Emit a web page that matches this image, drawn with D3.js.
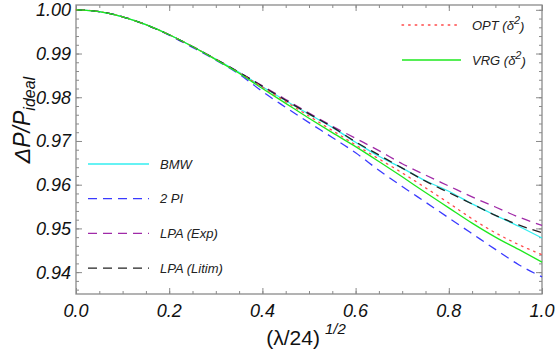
<!DOCTYPE html>
<html>
<head>
<meta charset="utf-8">
<script src="https://cdn.jsdelivr.net/npm/d3@7"></script>
<style>
  body { margin: 0; background: #fff; }
  text { font-family: 'Liberation Sans', Arial, sans-serif; }
</style>
</head>
<body>
<div id="wrapper"></div>
<script>
// 1. Data

const xs = [0, 0.05, 0.1, 0.15, 0.2, 0.25, 0.3, 0.35, 0.4, 0.45, 0.5,
  0.55, 0.6, 0.65, 0.7, 0.75, 0.8, 0.85, 0.9, 0.95, 1.0];

const bmw = [1.0, 0.9996, 0.9984, 0.9966, 0.9943, 0.9916, 0.9887, 0.9857, 0.9824, 0.9792, 0.9761,
  0.9731, 0.9697, 0.9665, 0.9638, 0.9609, 0.9585, 0.9556, 0.9530, 0.9505, 0.9478];
const twoPI = [1.0, 0.9996, 0.9984, 0.9966, 0.9942, 0.9914, 0.9885, 0.9853, 0.9813, 0.9777, 0.9742,
  0.9708, 0.9673, 0.9633, 0.9596, 0.9560, 0.9524, 0.9488, 0.9452, 0.9417, 0.9389];
const lpaExp = [1.0, 0.9996, 0.9984, 0.9966, 0.9943, 0.9916, 0.9887, 0.9857, 0.9826, 0.9795, 0.9764,
  0.9734, 0.9706, 0.9678, 0.9648, 0.9622, 0.9597, 0.9572, 0.9549, 0.9526, 0.9507];
const lpaLitim = [1.0, 0.9996, 0.9984, 0.9966, 0.9943, 0.9916, 0.9887, 0.9857, 0.9825, 0.9793, 0.9762,
  0.9732, 0.9698, 0.9668, 0.9638, 0.9608, 0.9582, 0.9556, 0.9530, 0.9508, 0.9490];
const opt = [1.0, 0.9996, 0.9984, 0.9966, 0.9943, 0.9916, 0.9887, 0.9856, 0.9823, 0.9790, 0.9757,
  0.9724, 0.9691, 0.9659, 0.9627, 0.9593, 0.9558, 0.9522, 0.9490, 0.9463, 0.9440];
const vrg = [1.0, 0.9996, 0.9984, 0.9966, 0.9943, 0.9916, 0.9886, 0.9855, 0.9820, 0.9786, 0.9752,
  0.9719, 0.9687, 0.9653, 0.9618, 0.9582, 0.9547, 0.9512, 0.9480, 0.9452, 0.9423];

const xTicks = [0, 0.2, 0.4, 0.6, 0.8, 1.0];
const yTicks = [0.94, 0.95, 0.96, 0.97, 0.98, 0.99, 1.0];

const series = [
  { name: 'BMW', values: bmw, color: '#33eef0', dash: null, legend: 'left' },
  { name: '2 PI', values: twoPI, color: '#3a3aff', dash: '9,6', legend: 'left' },
  { name: 'LPA (Exp)', values: lpaExp, color: '#a02aa8', dash: '9,6', legend: 'left' },
  { name: 'LPA (Litim)', values: lpaLitim, color: '#222', dash: '9,6', legend: 'left' },
  { name: 'OPT', values: opt, color: '#ff4a4a', dash: '1.6,5', legend: 'right' },
  { name: 'VRG', values: vrg, color: '#1ee81e', dash: null, legend: 'right' },
];

// 2. Dimensions

let dimensions = {
  width: 556,
  height: 357,
  margin: { top: 5, right: 14, bottom: 63, left: 76 },
};
dimensions.boundedWidth = dimensions.width - dimensions.margin.left - dimensions.margin.right;
dimensions.boundedHeight = dimensions.height - dimensions.margin.top - dimensions.margin.bottom;

// 3. Canvas

const wrapper = d3.select('#wrapper').append('svg')
  .attr('width', dimensions.width)
  .attr('height', dimensions.height);

const bounds = wrapper.append('g')
  .attr('transform', `translate(${dimensions.margin.left},${dimensions.margin.top})`);

// 4. Scales

const xScale = d3.scaleLinear().domain([0, 1]).range([0, dimensions.boundedWidth]);
const yScale = d3.scaleLinear().domain([0.935, 1.0011]).range([dimensions.boundedHeight, 0]);

// 5. Frame + ticks (inward, on all four sides)

const frameColor = '#8a8a8a';
const xMinor = d3.range(0, 1.0001, 0.05);
const yMinor = d3.range(0.936, 1.0011, 0.002);

function styleAxis(g) {
  g.select('.domain').remove();
  g.selectAll('line').attr('stroke', frameColor);
}

const axes = [
  { gen: d3.axisBottom, scale: xScale, ty: dimensions.boundedHeight, tx: 0, major: xTicks, minor: xMinor },
  { gen: d3.axisTop, scale: xScale, ty: 0, tx: 0, major: xTicks, minor: xMinor },
  { gen: d3.axisLeft, scale: yScale, ty: 0, tx: 0, major: yTicks, minor: yMinor },
  { gen: d3.axisRight, scale: yScale, ty: 0, tx: dimensions.boundedWidth, major: yTicks, minor: yMinor },
];
axes.forEach((a) => {
  bounds.append('g')
    .attr('transform', `translate(${a.tx},${a.ty})`)
    .call(a.gen(a.scale).tickValues(a.minor).tickSize(-3).tickFormat(''))
    .call(styleAxis);
  bounds.append('g')
    .attr('transform', `translate(${a.tx},${a.ty})`)
    .call(a.gen(a.scale).tickValues(a.major).tickSize(-6).tickFormat(''))
    .call(styleAxis);
});

bounds.append('rect')
  .attr('width', dimensions.boundedWidth)
  .attr('height', dimensions.boundedHeight)
  .attr('fill', 'none')
  .attr('stroke', frameColor)
  .attr('stroke-width', 1.3);

// tick labels
bounds.selectAll('.xlab').data(xTicks).enter().append('text')
  .attr('x', (d) => xScale(d))
  .attr('y', dimensions.boundedHeight + 23)
  .attr('text-anchor', 'middle')
  .attr('font-size', 18)
  .attr('font-style', 'italic')
  .attr('fill', '#111')
  .text(d3.format('.1f'));

bounds.selectAll('.ylab').data(yTicks).enter().append('text')
  .attr('x', -5)
  .attr('y', (d) => yScale(d))
  .attr('dy', '0.36em')
  .attr('text-anchor', 'end')
  .attr('font-size', 18)
  .attr('font-style', 'italic')
  .attr('fill', '#111')
  .text(d3.format('.2f'));

// 6. Curves

const line = d3.line()
  .x((d) => xScale(d[0]))
  .y((d) => yScale(d[1]))
  .curve(d3.curveMonotoneX);

series.forEach((s) => {
  bounds.append('path')
    .datum(xs.map((x, i) => [x, s.values[i]]))
    .attr('d', line)
    .attr('fill', 'none')
    .attr('stroke', s.color)
    .attr('stroke-width', 1.3)
    .attr('stroke-dasharray', s.dash)
    .attr('stroke-linecap', s.dash === '1.6,5' ? 'round' : 'butt');
});

// 7. Legends

const legendLeft = series.filter((s) => s.legend === 'left');
legendLeft.forEach((s, i) => {
  const y = 164 + i * 34.7;
  wrapper.append('line')
    .attr('x1', 88).attr('x2', 149).attr('y1', y).attr('y2', y)
    .attr('stroke', s.color).attr('stroke-width', 1.3)
    .attr('stroke-dasharray', s.dash);
  wrapper.append('text')
    .attr('x', 160).attr('y', y).attr('dy', '0.36em')
    .attr('font-size', 13).attr('font-style', 'italic').attr('fill', '#222')
    .text(s.name);
});

const legendRight = series.filter((s) => s.legend === 'right');
legendRight.forEach((s, i) => {
  const y = 25 + i * 35;
  wrapper.append('line')
    .attr('x1', 402).attr('x2', 461).attr('y1', y).attr('y2', y)
    .attr('stroke', s.color).attr('stroke-width', 1.3)
    .attr('stroke-dasharray', s.dash)
    .attr('stroke-linecap', s.dash ? 'round' : 'butt');
  const t = wrapper.append('text')
    .attr('x', 472).attr('y', y).attr('dy', '0.36em')
    .attr('font-size', 13).attr('font-style', 'italic').attr('fill', '#222');
  t.append('tspan').text(s.name + ' (');
  t.append('tspan').text('δ');
  t.append('tspan').attr('font-size', 11).attr('dy', '-0.55em').text('2');
  t.append('tspan').attr('dy', '0.55em').text(')');
});

// axis titles
const yTitle = wrapper.append('text')
  .attr('transform', 'translate(30,120) rotate(-90)')
  .attr('text-anchor', 'middle')
  .attr('font-size', 23)
  .attr('font-style', 'italic')
  .attr('fill', '#111');
yTitle.append('tspan').text('ΔP/P');
yTitle.append('tspan').attr('font-size', 16).attr('dy', '0.3em').text('ideal');

const xTitle = wrapper.append('text')
  .attr('x', 306)
  .attr('y', 345)
  .attr('text-anchor', 'middle')
  .attr('font-size', 21)
  .attr('fill', '#111');
xTitle.append('tspan').text('(λ/24)');
xTitle.append('tspan').attr('font-size', 15).attr('font-style', 'italic').attr('dy', '-0.75em').attr('dx', 5).text('1/2');
</script>
</body>
</html>
